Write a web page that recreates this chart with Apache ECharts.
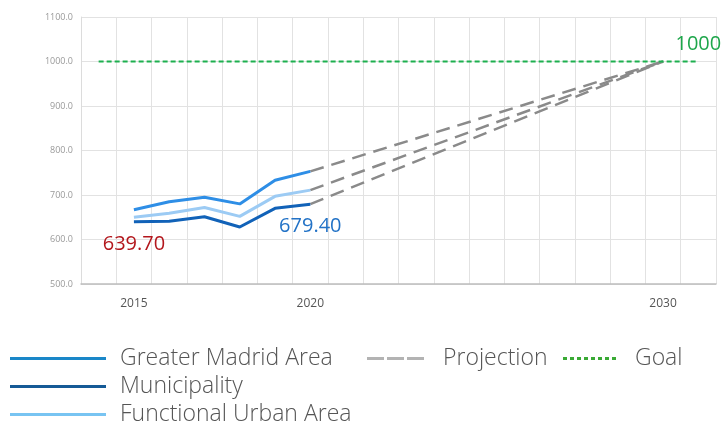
<!DOCTYPE html>
<html>
<head>
<meta charset="utf-8">
<script src="https://cdn.jsdelivr.net/npm/echarts@6/dist/echarts.min.js"></script>
<style>
  html, body { margin: 0; padding: 0; background: #fff; }
  #chart { width: 722px; height: 423px; }
</style>
</head>
<body>
<div id="chart"></div>
<script>
// years on the category axis
var years = ['2014', '2015', '2016', '2017', '2018', '2019', '2020', '2021', '2022',
             '2023', '2024', '2025', '2026', '2027', '2028', '2029', '2030', '2031'];
var shownYears = ['2015', '2020', '2030'];

// observed series, 2015 - 2020
var histYears = ['2015', '2016', '2017', '2018', '2019', '2020'];
var greaterMadrid = [667, 685, 695, 680, 733, 753];
var municipality = [639.7, 641, 651, 628, 670, 679.4];
var functionalUrban = [650, 659, 672, 652, 697, 711];

// projection: from the 2020 value to the goal in 2030
var projYears = ['2020', '2030'];
var projGreater = [753, 1000];
var projMunicipality = [679.4, 1000];
var projFunctional = [711, 1000];

var goalValue = 1000;

function fill(yrs, vals) {
    return years.map(function (y) {
        var i = yrs.indexOf(y);
        return i < 0 ? null : vals[i];
    });
}

var chart = echarts.init(document.getElementById('chart'));

function valueLabel(color) {
    return { show: true, position: 'bottom', distance: 12, color: color, fontSize: 20,
             fontFamily: 'Open Sans',
             formatter: function (p) { return p.value.toFixed(2); } };
}

var municipalityData = fill(histYears, municipality).map(function (v, i) {
    if (years[i] === '2015') return { value: v, label: valueLabel('#b3161c') };
    if (years[i] === '2020') return { value: v, label: valueLabel('#2272c6') };
    return v;
});

var goalData = years.map(function (y, i) {
    if (i === years.length - 1) {
        return { value: goalValue, label: { show: true, position: 'top', distance: 7,
                 color: '#1ea64b', fontSize: 20 } };
    }
    return goalValue;
});

function projection(vals) {
    return {
        name: 'Projection', type: 'line', data: fill(projYears, vals),
        connectNulls: true, symbol: 'none', silent: true,
        itemStyle: { color: '#b3b3b3' },
        lineStyle: { color: '#8a8a8a', width: 2.5, type: [14, 8] }
    };
}

var solidIcon = 'rect';
var dashIcon = 'path://M0,0h17v3h-17z M20,0h17v3h-17z M40,0h17v3h-17z';
var dotIcon = 'path://M0,0h4v3h-4z M7,0h4v3h-4z M14,0h4v3h-4z M21,0h4v3h-4z M28,0h4v3h-4z M35,0h4v3h-4z M42,0h4v3h-4z M49,0h4v3h-4z';

// one legend per entry so rows and columns sit where the reference has them
function legendItem(name, left, top, width, icon, pad) {
    return {
        left: left, top: top, padding: 0, itemWidth: width, itemHeight: 3, icon: icon,
        textStyle: { color: '#555', fontSize: 23, fontFamily: 'Open Sans', fontWeight: 300,
                     padding: [0, 0, 0, pad] },
        data: [name]
    };
}

chart.setOption({
    animation: false,
    textStyle: { fontFamily: 'Open Sans' },
    grid: { left: 81, right: 6, top: 17, bottom: 139 },
    legend: [
        legendItem('Greater Madrid Area', 10, 347, 96, solidIcon, 9),
        legendItem('Municipality', 10, 375, 96, solidIcon, 9),
        legendItem('Functional Urban Area', 10, 403, 96, solidIcon, 9),
        legendItem('Projection', 367, 347, 57, dashIcon, 14),
        legendItem('Goal', 563, 347, 53, dotIcon, 14)
    ],
    xAxis: {
        type: 'category', data: years, boundaryGap: true,
        axisLine: { lineStyle: { color: '#bdbdbd', width: 1.5 } },
        axisTick: { show: false },
        splitLine: { show: true, interval: 0, lineStyle: { color: '#e2e2e2' } },
        axisLabel: {
            interval: 0, margin: 14, color: '#555', fontSize: 12,
            formatter: function (v) { return shownYears.indexOf(v) >= 0 ? v : ''; }
        }
    },
    yAxis: {
        type: 'value', min: 500, max: 1100, interval: 100,
        axisLine: { show: true, lineStyle: { color: '#dcdcdc' } },
        axisTick: { show: false },
        splitLine: { lineStyle: { color: '#e2e2e2' } },
        axisLabel: { color: '#999', fontSize: 9, margin: 8,
                     formatter: function (v) { return v.toFixed(1); } }
    },
    series: [
        projection(projGreater),
        projection(projMunicipality),
        projection(projFunctional),
        {
            name: 'Goal', type: 'line', data: goalData, symbol: 'circle', symbolSize: 0.01,
            itemStyle: { color: '#3aaa35' },
            lineStyle: { color: '#1db04f', width: 2, type: [5, 3] }
        },
        {
            name: 'Greater Madrid Area', type: 'line', data: fill(histYears, greaterMadrid),
            symbol: 'none', lineStyle: { color: '#2e8ee6', width: 3 }, itemStyle: { color: '#1a87c8' }
        },
        {
            name: 'Municipality', type: 'line', data: municipalityData,
            symbol: 'circle', symbolSize: 0.01,
            lineStyle: { color: '#1162b8', width: 3 }, itemStyle: { color: '#155a96' }
        },
        {
            name: 'Functional Urban Area', type: 'line', data: fill(histYears, functionalUrban),
            symbol: 'none', lineStyle: { color: '#9ccbf4', width: 3 }, itemStyle: { color: '#78c4f2' }
        }
    ]
});
</script>
</body>
</html>
